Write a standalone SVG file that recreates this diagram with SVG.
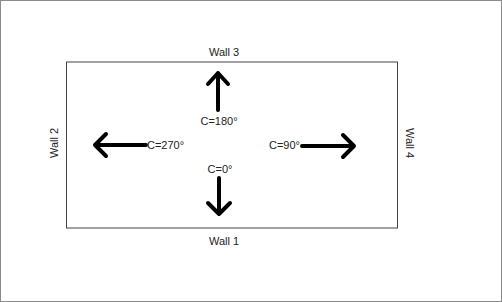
<svg xmlns="http://www.w3.org/2000/svg" width="502" height="302" viewBox="0 0 502 302">
<style>
.t{font-family:"Liberation Sans",Arial,sans-serif;font-size:11px;fill:#222}
.a{fill:none;stroke:#000;stroke-width:4;stroke-linecap:round;stroke-linejoin:round}
</style>
<rect x="0.5" y="0.5" width="501" height="301" fill="#fff" stroke="#8a8a8a" stroke-width="1"/>
<g id="room">
<rect x="66.5" y="62" width="331" height="166" fill="none" stroke="#444" stroke-width="1"/>
</g>
<g id="wall3"><text class="t" x="224" y="56" text-anchor="middle">Wall 3</text></g>
<g id="wall1"><text class="t" x="224" y="245" text-anchor="middle">Wall 1</text></g>
<g id="wall2"><text class="t" transform="translate(58,143) rotate(-90)" text-anchor="middle">Wall 2</text></g>
<g id="wall4"><text class="t" transform="translate(406,143) rotate(90)" text-anchor="middle">Wall 4</text></g>
<g id="connectors">
<g id="arrow180"><path class="a" d="M218,110 V73 M208,84 L218,73 L228,84"/></g>
<g id="arrow270"><path class="a" d="M146,145 H95 M106,134 L95,145 L106,156"/></g>
<g id="arrow90"><path class="a" d="M302,146 H354 M343,135 L354,146 L343,157"/></g>
<g id="arrow0"><path class="a" d="M219,178 V214 M208,203 L219,214 L230,203"/></g>
</g>
<g id="c180"><text class="t" x="219" y="125" text-anchor="middle">C=180°</text></g>
<g id="c270"><text class="t" x="147" y="149">C=270°</text></g>
<g id="c90"><text class="t" x="300" y="149" text-anchor="end">C=90°</text></g>
<g id="c0"><text class="t" x="220" y="173" text-anchor="middle">C=0°</text></g>
</svg>
